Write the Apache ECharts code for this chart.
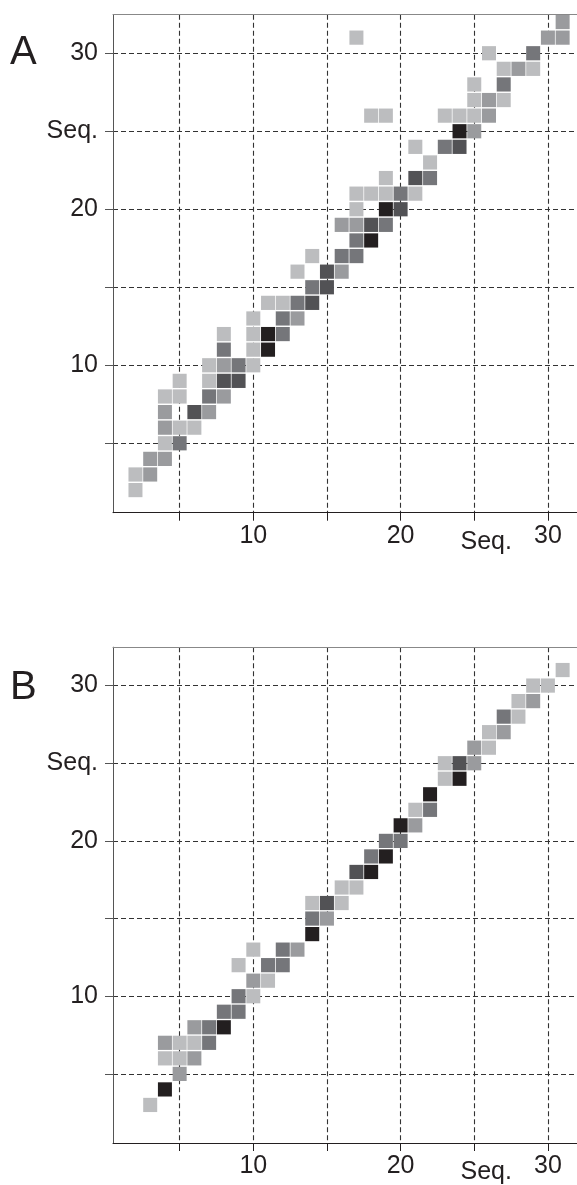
<!DOCTYPE html>
<html>
<head>
<meta charset="utf-8">
<script src="https://cdn.jsdelivr.net/npm/echarts@6/dist/echarts.min.js"></script>
<style>
html,body{margin:0;padding:0;background:#fff;}
#chart{width:577px;height:1185px;}
</style>
</head>
<body>
<div id="chart"></div>
<script>
// Shade levels: 1 = lightest ... 5 = black
var shades = ['', '#bcbdbf', '#9a9b9e', '#75767a', '#525255', '#231f20'];

// Panel A cells: [x, y, level]
var cellsA = [
  [2,2,1],[2,3,1],[3,3,2],[3,4,2],[4,4,2],[4,5,1],[5,5,3],
  [4,6,2],[5,6,1],[6,6,1],[4,7,2],[6,7,4],[7,7,2],
  [4,8,1],[5,8,1],[7,8,3],[8,8,2],[5,9,1],[7,9,1],[8,9,4],[9,9,4],
  [7,10,1],[8,10,2],[9,10,3],[10,10,1],[8,11,3],[10,11,1],[11,11,5],
  [8,12,1],[10,12,1],[11,12,5],[12,12,3],[10,13,1],[12,13,3],[13,13,2],
  [11,14,1],[12,14,1],[13,14,3],[14,14,4],[14,15,3],[15,15,4],
  [13,16,1],[15,16,4],[16,16,2],[14,17,1],[16,17,3],[17,17,3],
  [17,18,3],[18,18,5],[16,19,2],[17,19,2],[18,19,4],[19,19,3],
  [17,20,1],[19,20,5],[20,20,4],[17,21,1],[18,21,1],[19,21,1],[20,21,3],[21,21,1],
  [19,22,1],[21,22,4],[22,22,3],[22,23,1],[21,24,1],[23,24,3],[24,24,4],
  [24,25,5],[25,25,2],[18,26,1],[19,26,1],[23,26,1],[24,26,1],[25,26,1],[26,26,2],
  [25,27,1],[26,27,2],[27,27,1],[25,28,1],[27,28,3],
  [27,29,1],[28,29,2],[29,29,1],[26,30,1],[29,30,3],
  [17,31,1],[30,31,2],[31,31,2],[31,32,2]
];

// Panel B cells: [x, y, level]
var cellsB = [
  [3,3,1],[4,4,5],[5,5,2],[4,6,1],[5,6,1],[6,6,2],
  [4,7,2],[5,7,1],[6,7,1],[7,7,3],[6,8,2],[7,8,3],[8,8,5],
  [8,9,3],[9,9,3],[9,10,3],[10,10,1],[10,11,2],[11,11,1],
  [9,12,1],[11,12,3],[12,12,3],[10,13,1],[12,13,3],[13,13,2],
  [14,14,5],[14,15,3],[15,15,2],[14,16,1],[15,16,4],[16,16,1],
  [16,17,1],[17,17,1],[17,18,4],[18,18,5],[18,19,3],[19,19,5],
  [19,20,3],[20,20,3],[20,21,5],[21,21,2],[21,22,1],[22,22,3],
  [22,23,5],[23,24,1],[24,24,5],[23,25,1],[24,25,4],[25,25,2],
  [25,26,2],[26,26,1],[26,27,1],[27,27,2],[27,28,3],[28,28,1],
  [28,29,1],[29,29,2],[29,30,1],[30,30,1],[31,31,1]
];

var tickValues = [5, 10, 15, 20, 25, 30];
var tickLabels = {5: '', 10: '10', 15: '', 20: '20', 25: 'Seq.', 30: '30'};
var panelLetters = ['A', 'B'];

var FONT = '"Liberation Sans", Arial, Helvetica, sans-serif';
var INK = '#231f20';

function xAxisFor(idx) {
  return {
    gridIndex: idx, type: 'value', min: 0.475, max: 31.975, position: 'bottom',
    axisLine: {show: true, onZero: false, lineStyle: {color: INK, width: 1}},
    axisTick: {show: true, length: 8, customValues: tickValues, lineStyle: {color: INK, width: 1}},
    splitLine: {show: true, lineStyle: {type: [5, 3], color: '#333', width: 1.1}},
    axisLabel: {
      customValues: tickValues, margin: 11, color: INK, fontSize: 25, fontFamily: FONT,
      formatter: function (v) {
        var t = tickLabels[v] || '';
        return t === 'Seq.' ? '{s|Seq.}' : t;
      },
      rich: {s: {fontSize: 25, fontFamily: FONT, color: INK, padding: [6, 0, 0, 24]}}
    }
  };
}
function topFrameFor(idx) {
  return {
    gridIndex: idx, type: 'value', min: 0.475, max: 31.975, position: 'top',
    axisLine: {show: true, onZero: false, lineStyle: {color: '#888', width: 1}},
    axisTick: {show: false}, axisLabel: {show: false}, splitLine: {show: false}
  };
}
function yAxisFor(idx) {
  return {
    gridIndex: idx, type: 'value', min: 0.55, max: 32.47,
    axisLine: {show: true, onZero: false, lineStyle: {color: '#555', width: 1}},
    axisTick: {show: true, length: 8, customValues: tickValues, lineStyle: {color: '#555', width: 1}},
    splitLine: {show: true, lineStyle: {type: [5, 3], color: '#333', width: 1.1}},
    axisLabel: {
      customValues: tickValues, margin: 15, color: INK, fontSize: 25, fontFamily: FONT,
      padding: [4, 0, 0, 0],
      formatter: function (v) { return tickLabels[v] || ''; }
    }
  };
}
function seriesFor(idx, cells) {
  return {
    type: 'scatter', xAxisIndex: idx, yAxisIndex: idx,
    symbol: 'rect', symbolSize: [14, 14.2],
    data: cells,
    itemStyle: {color: function (p) { return shades[p.value[2]]; }, opacity: 1},
    emphasis: {disabled: true},
    animation: false
  };
}

var chart = echarts.init(document.getElementById('chart'), null, {renderer: 'canvas'});
chart.setOption({
  backgroundColor: '#fff',
  animation: false,
  grid: [
    {left: 113, top: 14.7, right: 0, height: 498},
    {left: 113, top: 647.2, right: 0, height: 498}
  ],
  xAxis: [xAxisFor(0), xAxisFor(1), topFrameFor(0), topFrameFor(1)],
  yAxis: [yAxisFor(0), yAxisFor(1)],
  series: [seriesFor(0, cellsA), seriesFor(1, cellsB)],
  graphic: [
    {type: 'text', left: 10, top: 33, style: {text: panelLetters[0], font: '40px ' + FONT, fill: INK}},
    {type: 'text', left: 10, top: 668, style: {text: panelLetters[1], font: '40px ' + FONT, fill: INK}}
  ]
});
</script>
</body>
</html>
